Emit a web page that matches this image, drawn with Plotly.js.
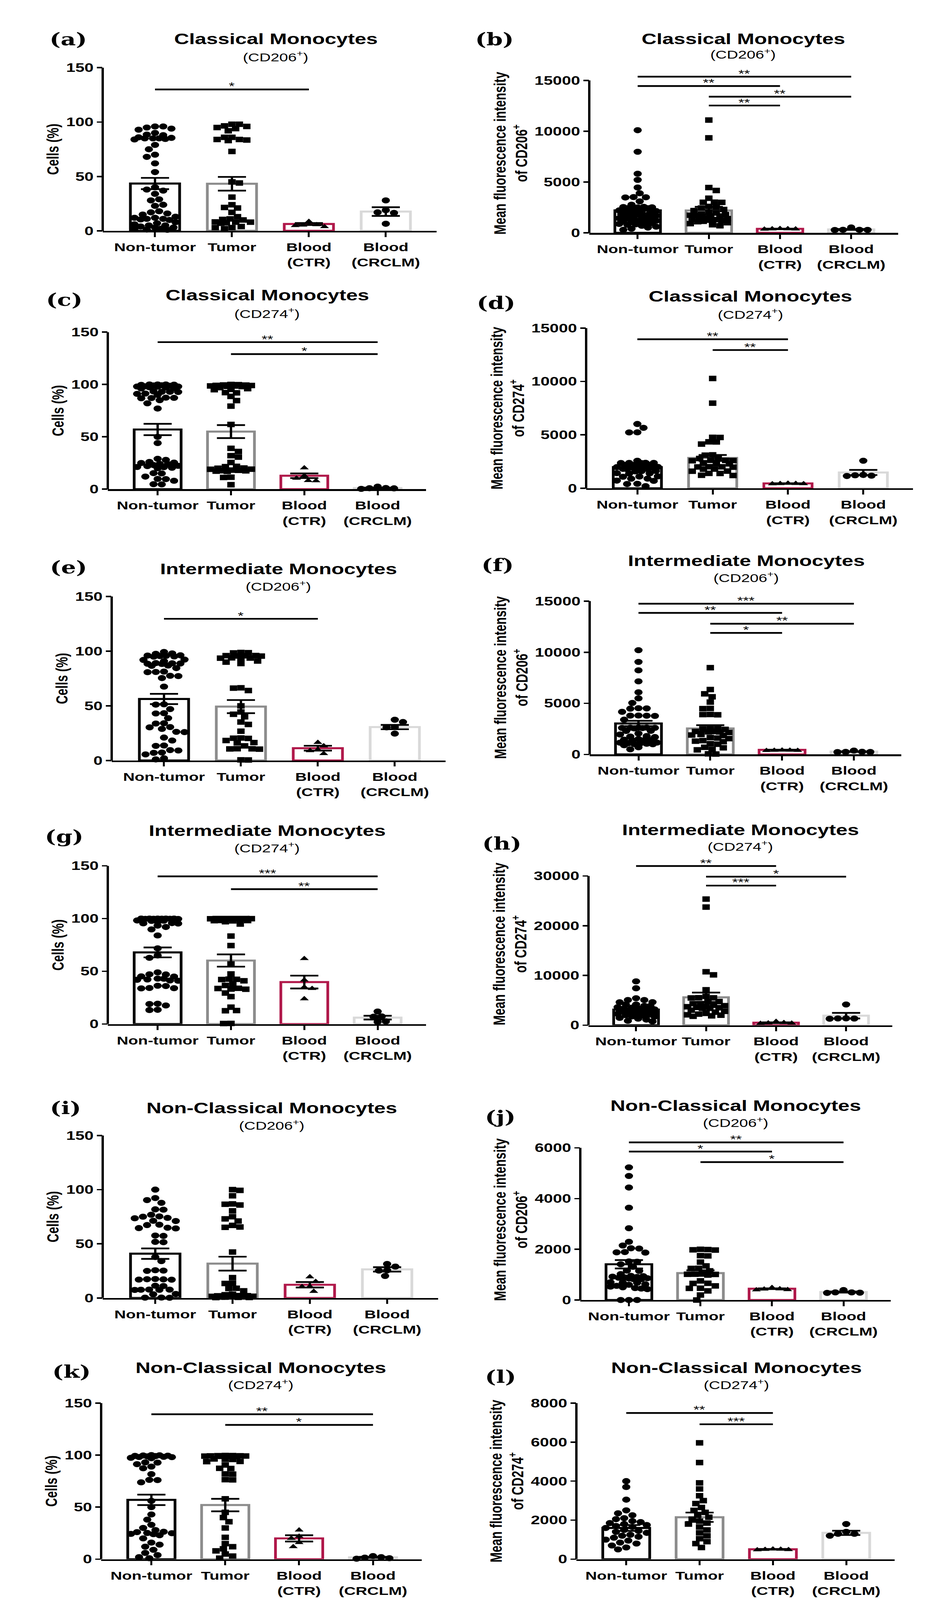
<!DOCTYPE html>
<html>
<head>
<meta charset="utf-8">
<script src="https://cdn.plot.ly/plotly-3.0.1.min.js"></script>
<style>html,body{margin:0;padding:0;background:#fff;overflow:hidden;}#chart{width:2379px;height:5531px;}</style>
</head>
<body>
<div id="chart"></div>
<script>
// ---------------- DATA ----------------
const categories = ['Non-tumor', 'Tumor', 'Blood<br>(CTR)', 'Blood<br>(CRCLM)'];

// (a) Classical CD206+ cells %
const a_nontumor = [96,96,95,93,94,90,88,88.5,85,85.5,86,85,84,85,84.5,79,75,70,68,62,54,40,38,37,34,28,29,24,23,18,17,16,15,13,12,11,10,10.5,11,12,8,7,6,5,4,3,2,1,1.2,2,3,5];
const a_tumor = [98,96,95,92,94,96.5,98,86,84,83,83.5,84,86,73,44,45,31,24,21,21.5,17,13,11,10,10.5,8,8.2,7,7.4,8,4,3,2,3];
const a_ctr = [8.6,4.8,3.8,5.3,5.6];
const a_crclm = [28,19,17,16.5,6.5];
const a_mean = [43.5,43.3,6.3,17.7];
const a_sem = [5.2,6.3,0.9,4.0];
const a_sig = [[0,2,130,'*']];

// (b) Classical CD206+ MFI
const b_nontumor = [10100,7980,5820,5210,4460,3900,3500,3480,3520,3100,2770,2560,2500,2480,2450,2430,2510,2540,2210,2120,2010,1960,2060,2150,1900,1820,1760,1690,1650,1600,1540,1510,1440,1400,1360,1310,1240,1200,1170,1090,1050,990,960,880,840,790,700,610,520,410,300];
const b_tumor = [11100,9350,4460,4170,3410,3010,3000,3020,2600,2510,2440,2300,2190,2050,1960,1850,1800,1740,1700,1610,1560,1500,1460,1400,1340,1300,1250,1200,1140,1100,1000,910,800,700];
const b_ctr = [420,380,360,400,390];
const b_crclm = [530,300,280,300,290];
const b_mean = [2210,2200,400,340];
const b_sem = [290,360,15,45];
const b_sig = [[0,3,15370,'**'],[0,2,14450,'**'],[1,3,13400,'**'],[1,2,12530,'**']];

// (c) Classical CD274+ cells %
const c_nontumor = [100,100,99.6,100,99.8,99,98.8,99.2,98,97.8,98.2,98,97,97.3,96.5,96.2,93,93.4,92.8,93,91,91.3,90,87,87.4,86.8,87.2,85,82,77,50,44,29,28,26,25,24,23,22,21,20,20.4,21.2,22.3,24.2,25.4,15,15.3,12,9.6,9.8,8,4.8,4.6];
const c_tumor = [100,99.5,99,98.5,98,98.2,98.6,99.1,99.4,99.8,97,96,95,95.3,92,92.2,88.6,84.6,79.3,61.8,39,36,32,30.6,25.5,21.5,21.8,20,19,18,17.5,17,17.2,17.6,18.2,19.1,20.2,11.2,11.4,4.3];
const c_ctr = [20.3,12.8,10.4,8,8.2];
const c_crclm = [2.4,0.8,0.3,0.9,1.1];
const c_mean = [57,55,12.8,1.1];
const c_sem = [5.4,6.2,2.2,0.4];
const c_sig = [[0,3,140.4,'**'],[1,3,129,'*']];

// (d) Classical CD274+ MFI
const d_nontumor = [6020,5660,5230,5240,2580,2380,2370,2390,2360,2380,2200,2180,2220,1980,1950,1960,2000,1940,1970,1800,1780,1820,1600,1620,1580,1400,1420,1380,1100,1120,1080,900,910,700,720,420,400,200];
const d_tumor = [10280,7970,4770,4760,4340,4350,4140,3130,3100,2800,2790,2620,2600,2580,2610,2330,2310,2290,2020,2000,2010,1980,1800,1790,1610,1600,1400,1390,1220,1200];
const d_ctr = [470,440,420,450,430];
const d_crclm = [2580,1220,1150,1180,1250];
const d_mean = [1980,2840,460,1480];
const d_sem = [170,280,12,240];
const d_sig = [[0,2,13950,'**'],[1,2,12940,'**']];

// (e) Intermediate CD206+ cells %
const e_nontumor = [99.3,97.9,97.6,96,95.5,95,95.2,95.7,96.2,92,92.3,90.8,88.9,88.5,88.7,89.1,88.3,86.6,86.9,84.5,81,81.3,80.8,77.5,77.2,75.4,67.6,51.4,51.1,47,43,43.3,38.7,33.8,34.1,30.3,30.6,28.9,26,26.2,21,18.3,13.4,13.7,9.2,9.5,7,7.3,5.6,2,1];
const e_tumor = [98.6,98.4,98.8,95.8,95.6,96,95.9,95.5,93.7,93.5,93.9,93.6,91,90,88.7,66.2,66.5,64,50,44.4,42.3,40,35.2,33,26.8,20.4,20.6,20.2,18.3,16.2,16.4,13.4,10.6,10.8,10.4,10.7,0.5,0.6];
const e_ctr = [16.5,13.4,9.9,9,6.3];
const e_crclm = [37.3,35.2,30.3,30.5,24.6];
const e_mean = [56.3,49.3,11.3,30.6];
const e_sem = [4.7,6.0,2.2,2.0];
const e_sig = [[0,2,129.6,'*']];

// (f) Intermediate CD206+ MFI
const f_nontumor = [10200,9050,8230,7150,6080,5490,5040,4500,4480,4520,4170,3790,3810,3770,3800,3400,2620,2600,2590,2580,2630,2610,2550,2300,2310,2050,1950,1800,1750,1700,1500,1450,1400,1380,1420,1150,1100,1050,1000,1010,1090,1160,900,700,500];
const f_tumor = [8490,6350,5930,5640,5120,4500,4480,3900,3880,3910,2650,2600,2500,2450,2250,2200,2210,2150,2240,1900,1950,1850,1600,1650,1550,1300,1350,1250,1000,1050,700,650,500,450,60,40];
const f_ctr = [420,400,380,410,390];
const f_crclm = [380,250,240,260,230];
const f_mean = [3030,2540,450,275];
const f_sem = [260,320,12,30];
const f_sig = [[0,3,14750,'***'],[0,2,13850,'**'],[1,3,12790,'**'],[1,2,11890,'*']];

// (g) Intermediate CD274+ cells %
const g_nontumor = [100,99.8,100,99.7,100,99.9,100,99.6,100,99.8,98,98.2,97.8,98.1,98,95.5,95.7,95.3,93.3,92,89.7,84,71.8,65,62.8,49,47,45,43,42,41,41.3,42.2,43.1,45.2,47.1,36,36.3,34,34.2,33.8,19,19.3,17.6,13.3,13.5];
const g_tumor = [100,99.8,100,99.7,100,99.9,100,99.6,100,99.8,98,98.2,97.8,98.1,97,94.8,83.4,74.4,57,47.5,42.4,42.6,42.2,41,38,36.6,33.7,33.9,33,33.2,29.4,26,16,12.6,12.8,0.5,0.6];
const g_ctr = [62,41.7,35,33.7,23.9];
const g_crclm = [11.9,7,7.2,2.1,2.5];
const g_mean = [67.9,60.2,39.8,6.1];
const g_sem = [4.7,5.8,6.1,1.8];
const g_sig = [[0,3,140,'***'],[1,3,127.9,'**']];

// (h) Intermediate CD274+ MFI
const h_nontumor = [8820,7430,5420,5070,5060,4620,4630,4170,4160,3870,3880,3620,3540,3390,3330,3180,3120,3010,2960,2890,2790,2720,2640,2610,2480,2430,2280,2230,2090,2010,1930,1770,1720,1480,1320,1130,880,760];
const h_tumor = [25350,23740,10740,10120,7120,5800,5500,5520,5480,4770,4760,4320,4330,4010,3920,3790,3710,3580,3520,3390,3410,3020,2790,2620,2380,2230,2090,2010,1880,1790];
const h_ctr = [750,520,410,450,360];
const h_crclm = [4170,1340,1350,1300,1380];
const h_mean = [3130,5600,500,1910];
const h_sem = [310,950,70,560];
const h_sig = [[0,2,32000,'**'],[1,3,29850,'*'],[1,2,28060,'***']];

// (i) Non-classical CD206+ cells %
const i_nontumor = [100,92.2,90.3,87.8,81.8,81.5,76.8,75,75.3,73.6,73.9,71,71.2,67.6,67.3,64.5,64.8,64.2,57.6,57.3,51.8,51.5,37.8,34,25.3,25.6,25,17.2,17.5,16.9,17.3,17,11,11.3,7.6,7.8,7.4,7.7,7.5,3.5,3.7,0.3,0.4,0.2];
const i_tumor = [100,99.3,94.3,86.8,86.5,85.8,80.4,75,73,71,67,65.2,65.5,42.4,18.8,13.4,13.6,8.8,9,6.6,3.5,2,1.5,1,0.5,0.6,1.1,1.6,2.1,0.4,0.9,2.2,0.8,1.2,3];
const i_ctr = [19.5,15.2,10.4,10.6,6.1];
const i_crclm = [31.4,29,25.3,25.5,20.3];
const i_mean = [40.9,31.7,12.2,26.4];
const i_sem = [4.8,6.4,2.5,2.0];
const i_sig = [];

// (j) Non-classical CD206+ MFI
const j_nontumor = [5230,4890,4435,3640,2830,2295,2150,2030,2040,1880,1890,1870,1510,1520,1410,1310,1150,1160,1020,950,920,880,850,820,830,860,890,910,940,690,700,680,620,560,500,450,430,470,530,600,0,0,0];
const j_tumor = [1980,1970,1990,2000,1740,1750,1495,1345,1245,1250,1150,1015,1020,1010,985,1060,755,655,660,557,460,465,360,197,0];
const j_ctr = [490,430,400,410,440];
const j_crclm = [393,300,280,290,300];
const j_mean = [1410,1062,446,315];
const j_sem = [165,110,15,22];
const j_sig = [[0,3,6215,'**'],[0,2,5855,'*'],[1,3,5438,'*']];

// (k) Non-classical CD274+ cells %
const k_nontumor = [100,99.6,99,98.8,98,98.3,97,97.4,98.1,99.2,99.8,99.4,93,92.8,91.3,88.9,87.3,81.7,76.2,76,73.8,56,50,43,38,33,30,28,26,25,24,23,24.3,25.2,26.4,20,16,14,12,9,6,4,2,1];
const k_tumor = [99.2,99.5,98.9,99.1,99.4,98.8,99.3,99,99.6,98.7,96,96.3,95.8,93.7,93.9,90.5,87.3,87.1,81.7,81.9,76.2,76.4,58,45,40,36,30,21,15,12,10,8,5,3,1];
const k_ctr = [28,22,20,16,12];
const k_crclm = [3,2,1.5,1,0.5];
const k_mean = [57,52,20,1.8];
const k_sem = [5,6,3,0.5];
const k_sig = [[0,3,139.2,'**'],[1,3,129,'*']];

// (l) Non-classical CD274+ MFI
const l_nontumor = [4000,3700,3050,2500,2350,2250,2100,2050,1950,1900,1850,1800,1750,1700,1650,1600,1500,1450,1400,1350,1250,1200,1150,1100,1000,950,850,800,700,600,500];
const l_tumor = [5960,4950,3910,3600,3250,3000,2850,2650,2500,2400,2250,2150,2050,1950,1850,1800,1650,1500,1350,1200,1050,900,800,600];
const l_ctr = [520,500,490,510,480];
const l_crclm = [1800,1400,1300,1200,1300];
const l_mean = [1600,2150,510,1350];
const l_sem = [150,240,10,110];
const l_sig = [[0,2,7489,'**'],[1,2,6911,'***']];

// ---------------- STYLE / LAYOUT ----------------
const W = 2379, H = 5531;
const SANS = 'Liberation Sans, Arial, Helvetica, sans-serif';
const SERIF = 'DejaVu Serif, Liberation Serif, serif';
const barLine = ['#000000', '#8c8c8c', '#b0184a', '#d9d9d9'];
const symbols = ['circle', 'square', 'triangle-up', 'circle'];
const symSize = [21, 19, 20, 21];
const CELLS = '<b>Cells (%)</b>';
const mfi = m => '<b>Mean fluorescence intensity<br>of ' + m + '<sup>+</sup></b>';

const panels = [
  {k:'a', t:'Classical Monocytes', s:'CD206', yt:CELLS, ticks:[0,50,100,150], d:[a_nontumor,a_tumor,a_ctr,a_crclm], m:a_mean, e:a_sem, sig:a_sig,
   g:{ax:263, xe:1118, y0:798, ytop:234, top:150, tx:706, ty:135, sy:195, lx:175, ly:135}},
  {k:'b', t:'Classical Monocytes', s:'CD206', yt:mfi('CD206'), ticks:[0,5000,10000,15000], d:[b_nontumor,b_tumor,b_ctr,b_crclm], m:b_mean, e:b_sem, sig:b_sig,
   g:{ax:1509, xe:2300, y0:805, ytop:278, top:15000, tx:1903, ty:135, sy:186, lx:1266, ly:135}},
  {k:'c', t:'Classical Monocytes', s:'CD274', yt:CELLS, ticks:[0,50,100,150], d:[c_nontumor,c_tumor,c_ctr,c_crclm], m:c_mean, e:c_sem, sig:c_sig,
   g:{ax:276, xe:1091, y0:1691, ytop:1148, top:150, tx:684, ty:1021, sy:1082, lx:164, ly:1036}},
  {k:'d', t:'Classical Monocytes', s:'CD274', yt:mfi('CD274'), ticks:[0,5000,10000,15000], d:[d_nontumor,d_tumor,d_ctr,d_crclm], m:d_mean, e:d_sem, sig:d_sig,
   g:{ax:1501, xe:2338, y0:1688, ytop:1134, top:15000, tx:1922, ty:1024, sy:1085, lx:1270, ly:1047}},
  {k:'e', t:'Intermediate Monocytes', s:'CD206', yt:CELLS, ticks:[0,50,100,150], d:[e_nontumor,e_tumor,e_ctr,e_crclm], m:e_mean, e:e_sem, sig:e_sig,
   g:{ax:286, xe:1141, y0:2629, ytop:2062, top:150, tx:713, ty:1966, sy:2025, lx:175, ly:1961}},
  {k:'f', t:'Intermediate Monocytes', s:'CD206', yt:mfi('CD206'), ticks:[0,5000,10000,15000], d:[f_nontumor,f_tumor,f_ctr,f_crclm], m:f_mean, e:f_sem, sig:f_sig,
   g:{ax:1510, xe:2308, y0:2608, ytop:2078, top:15000, tx:1911, ty:1937, sy:1995, lx:1274, ly:1953}},
  {k:'g', t:'Intermediate Monocytes', s:'CD274', yt:CELLS, ticks:[0,50,100,150], d:[g_nontumor,g_tumor,g_ctr,g_crclm], m:g_mean, e:g_sem, sig:g_sig,
   g:{ax:276, xe:1091, y0:3540, ytop:2993, top:150, tx:684, ty:2871, sy:2929, lx:164, ly:2892}},
  {k:'h', t:'Intermediate Monocytes', s:'CD274', yt:mfi('CD274'), ticks:[0,10000,20000,30000], d:[h_nontumor,h_tumor,h_ctr,h_crclm], m:h_mean, e:h_sem, sig:h_sig,
   g:{ax:1507, xe:2285, y0:3544, ytop:3028, top:30000, tx:1896, ty:2868, sy:2924, lx:1285, ly:2916}},
  {k:'i', t:'Non-Classical Monocytes', s:'CD206', yt:CELLS, ticks:[0,50,100,150], d:[i_nontumor,i_tumor,i_ctr,i_crclm], m:i_mean, e:i_sem, sig:i_sig,
   g:{ax:263, xe:1122, y0:4487, ytop:3925, top:150, tx:696, ty:3830, sy:3889, lx:168, ly:3830}},
  {k:'j', t:'Non-Classical Monocytes', s:'CD206', yt:mfi('CD206'), ticks:[0,2000,4000,6000], d:[j_nontumor,j_tumor,j_ctr,j_crclm], m:j_mean, e:j_sem, sig:j_sig,
   g:{ax:1486, xe:2281, y0:4494, ytop:3968, top:6000, tx:1884, ty:3822, sy:3879, lx:1282, ly:3861}},
  {k:'k', t:'Non-Classical Monocytes', s:'CD274', yt:CELLS, ticks:[0,50,100,150], d:[k_nontumor,k_tumor,k_ctr,k_crclm], m:k_mean, e:k_sem, sig:k_sig,
   g:{ax:259, xe:1080, y0:5390, ytop:4850, top:150, tx:668, ty:4728, sy:4785, lx:183, ly:4742}},
  {k:'l', t:'Non-Classical Monocytes', s:'CD274', yt:mfi('CD274'), ticks:[0,2000,4000,6000,8000], d:[l_nontumor,l_tumor,l_ctr,l_crclm], m:l_mean, e:l_sem, sig:l_sig,
   g:{ax:1476, xe:2291, y0:5390, ytop:4850, top:8000, tx:1886, ty:4728, sy:4785, lx:1282, ly:4759}}
];

// deterministic, width-limited beeswarm (pixel space) -> offsets in category units
function swarm(vals, pxPerUnit, pxPerCat, size) {
  const minD = size * 0.95, step = size / 4;
  const maxHalf = 0.28 * pxPerCat;
  const nSteps = Math.floor(maxHalf / step);
  const order = vals.map((v, i) => i).sort((p, q) => vals[q] - vals[p]);
  const placed = [];
  const out = new Array(vals.length).fill(0);
  order.forEach((i, n) => {
    const y = vals[i] * pxPerUnit;
    const near = placed.filter(p => Math.abs(p.y - y) < minD);
    let best = null, bestScore = -1;
    for (let s = 0; s <= nSteps; s++) {
      const opts = s === 0 ? [0] : (n % 2 ? [s * step, -s * step] : [-s * step, s * step]);
      for (const x of opts) {
        let md = Infinity;
        near.forEach(p => { const dd = Math.hypot(p.x - x, p.y - y); if (dd < md) md = dd; });
        if (md >= minD) { best = x; bestScore = Infinity; break; }
        if (md > bestScore + 0.5) { bestScore = md; best = x; }
      }
      if (bestScore === Infinity) break;
    }
    placed.push({x: best, y: y});
    out[i] = best / pxPerCat;
  });
  return out;
}

const traces = [];
const shapes = [];
const annotations = [];
const layout = {
  width: W, height: H, margin: {l: 0, r: 0, t: 0, b: 0},
  paper_bgcolor: '#ffffff', plot_bgcolor: 'rgba(0,0,0,0)',
  showlegend: false, bargap: 0, font: {family: SANS, color: '#000'}
};
const XR = [-0.68, 3.66];

panels.forEach((p, idx) => {
  const n = idx + 1;
  const xa = n === 1 ? 'x' : 'x' + n;
  const ya = n === 1 ? 'y' : 'y' + n;
  const g = p.g;
  const pxPerCat = (g.xe - g.ax) / (XR[1] - XR[0]);
  const pxPerUnit = (g.y0 - g.ytop) / g.top;
  const sigMax = p.sig.length ? Math.max(...p.sig.map(s => s[2])) : 0;
  const rangeTop = Math.max(g.top, sigMax * 1.02);
  const topPx = g.y0 - rangeTop * pxPerUnit;

  layout['xaxis' + (n === 1 ? '' : n)] = {
    domain: [g.ax / W, g.xe / W], range: XR, anchor: ya, fixedrange: true,
    tickmode: 'array', tickvals: [0, 1, 2, 3], ticktext: categories.map(c => '<b>' + c + '</b>'),
    showline: true, linewidth: 6, linecolor: '#000', ticks: 'outside', ticklen: 15, tickwidth: 5, tickcolor: '#000',
    tickfont: {family: SANS, size: 41, color: '#000', weight: 'bold'}, showgrid: false, zeroline: false
  };
  layout['yaxis' + (n === 1 ? '' : n)] = {
    domain: [1 - g.y0 / H, 1 - topPx / H], range: [0, rangeTop], anchor: xa, fixedrange: true,
    tickmode: 'array', tickvals: p.ticks, ticktext: p.ticks.map(v => '<b>' + v + '</b>'),
    showline: false, ticks: 'outside', ticklen: 14, tickwidth: 5, tickcolor: '#000',
    tickfont: {family: SANS, size: 42, color: '#000', weight: 'bold'}, showgrid: false, zeroline: false,
    title: {text: p.yt, font: {family: SANS, size: 42, color: '#000'}, standoff: 5}
  };
  shapes.push({type: 'line', xref: 'paper', yref: ya, x0: g.ax / W, x1: g.ax / W, y0: 0, y1: g.top,
               line: {color: '#000', width: 6}});

  traces.push({type: 'bar', x: [0, 1, 2, 3], y: p.m, xaxis: xa, yaxis: ya, width: 0.64,
               marker: {color: '#ffffff', line: {color: barLine, width: 7}}, hoverinfo: 'skip'});
  p.d.forEach((vals, c) => {
    const offs = swarm(vals, pxPerUnit, pxPerCat, symSize[c]);
    traces.push({type: 'scatter', mode: 'markers', xaxis: xa, yaxis: ya, cliponaxis: false,
                 x: vals.map((v, i) => c + offs[i]), y: vals,
                 marker: {symbol: symbols[c], size: symSize[c], color: '#000', line: {width: 0}}, hoverinfo: 'skip'});
  });
  traces.push({type: 'scatter', mode: 'markers', x: [0, 1, 2, 3], y: p.m, xaxis: xa, yaxis: ya, cliponaxis: false,
               marker: {size: 1, color: 'rgba(0,0,0,0)'},
               error_y: {type: 'data', array: p.e, visible: true, color: '#000', thickness: 6, width: 36}, hoverinfo: 'skip'});
  p.sig.forEach(s => {
    shapes.push({type: 'line', xref: xa, yref: ya, x0: s[0], x1: s[1], y0: s[2], y1: s[2], line: {color: '#000', width: 6}});
    annotations.push({xref: xa, yref: ya, x: (s[0] + s[1]) / 2, y: s[2], text: s[3], showarrow: false,
                      xanchor: 'center', yanchor: 'bottom', yshift: -12, font: {family: SANS, size: 38, color: '#000'}});
  });
  annotations.push({xref: 'paper', yref: 'paper', x: g.tx / W, y: 1 - g.ty / H, text: '<b>' + p.t + '</b>', showarrow: false,
                    xanchor: 'center', yanchor: 'middle', font: {family: SANS, size: 53, color: '#000'}});
  annotations.push({xref: 'paper', yref: 'paper', x: g.tx / W, y: 1 - g.sy / H, text: '(' + p.s + '<sup>+</sup>)', showarrow: false,
                    xanchor: 'center', yanchor: 'middle', font: {family: SANS, size: 40, color: '#000'}});
  annotations.push({xref: 'paper', yref: 'paper', x: g.lx / W, y: 1 - g.ly / H, text: '<b>(' + p.k + ')</b>', showarrow: false,
                    xanchor: 'center', yanchor: 'middle', font: {family: SERIF, size: 60, color: '#000'}});
});

layout.shapes = shapes;
layout.annotations = annotations;

// The browser viewport may be shorter than the requested 5531 px; if so, fit the whole
// figure into the visible window (vertical fit only, keeping the full width).
function fitToWindow() {
  const vh = window.innerHeight || H;
  const el = document.getElementById('chart');
  if (vh < H) {
    el.style.transformOrigin = '0 0';
    el.style.transform = 'scale(1,' + (vh / H) + ')';
  }
}
Plotly.newPlot('chart', traces, layout, {displayModeBar: false, staticPlot: true}).then(fitToWindow);
</script>
</body>
</html>
